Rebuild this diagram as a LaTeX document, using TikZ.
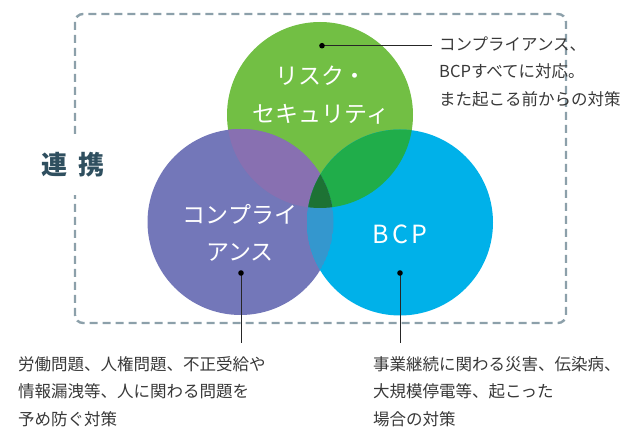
\documentclass[tikz,border=0pt]{standalone}
\usepackage{fontspec}
\setmainfont{Noto Sans CJK JP}
\definecolor{cgreen}{HTML}{72BF44}
\definecolor{cpurple}{HTML}{7377B9}
\definecolor{cblue}{HTML}{00B1E9}
\definecolor{cgp}{HTML}{8870B1}
\definecolor{cgb}{HTML}{20AD4A}
\definecolor{cpb}{HTML}{3497CE}
\definecolor{ctri}{HTML}{1D7234}
\definecolor{cdash}{HTML}{8CA0AA}
\definecolor{ctext}{HTML}{383838}
\definecolor{ctitle}{HTML}{2F4F5F}
\tikzset{
  venn/.style={circle, minimum size=186pt, inner sep=0pt, draw=none},
  lbl/.style={text=white, align=center, font=\fontsize{23}{37.5}\selectfont},
  desc/.style={text=ctext, align=left, anchor=north west, inner sep=0pt, font=\fontsize{16.5}{27.3}\selectfont},
  lead/.style={draw=black!85, line width=0.9pt}
}
\begin{document}
\begin{tikzpicture}[x=1pt,y=-1pt]
\useasboundingbox (0,0) rectangle (624,427);
% dashed frame
\draw[cdash, line width=2.4pt, dash pattern=on 8pt off 5pt, rounded corners=8pt] (75,14) rectangle (566,323);
\node[fill=white, minimum width=80pt, minimum height=60pt, inner sep=0pt, text=ctitle, font=\fontsize{26}{26}\selectfont\bfseries] (renkei) at (73,165) {連\hspace{0.4em}携};
% circles
\node[venn, fill=cgreen] (risk) at (320,115) {};
\node[venn, fill=cpurple] (comp) at (240.5,222) {};
\node[venn, fill=cblue] (bcp) at (400,222.5) {};
\begin{scope}
  \clip (320,115) circle (93);
  \fill[cgp] (240.5,222) circle (93);
  \fill[cgb] (400,222.5) circle (93);
  \clip (240.5,222) circle (93);
  \fill[ctri] (400,222.5) circle (93);
\end{scope}
\begin{scope}
  \clip (240.5,222) circle (93);
  \clip (400,222.5) circle (93);
  \fill[cpb] (240.5,222) circle (93);
  \clip (320,115) circle (93);
  \fill[ctri] (240.5,222) circle (93);
\end{scope}
% labels
\node[lbl] (risklbl) at (321,95) {リスク・\\セキュリティ};
\node[lbl] (complbl) at (240,233) {コンプライ\\アンス};
\node[text=white, font=\fontsize{25}{25}\selectfont] (bcplbl) at (400,234) {B\hspace{0.12em}C\hspace{0.12em}P};
% descriptions
\node[desc] (d1) at (439,36.5) {コンプライアンス、\\BCPすべてに対応。\\また起こる前からの対策};
\node[desc] (d2) at (18,356.5) {労働問題、人権問題、不正受給や\\情報漏洩等、人に関わる問題を\\予め防ぐ対策};
\node[desc] (d3) at (373,356.5) {事業継続に関わる災害、伝染病、\\大規模停電等、起こった\\場合の対策};
% leaders
\coordinate (p1) at (322,45.7);
\coordinate (q1) at (432,45.7);
\coordinate (p2) at (241,273);
\coordinate (q2) at (241,343);
\coordinate (p3) at (400,273);
\coordinate (q3) at (400,343);
\draw[lead] (p1) -- (q1);
\draw[lead] (p2) -- (q2);
\draw[lead] (p3) -- (q3);
\fill[black] (p1) circle (2.8);
\fill[black] (p2) circle (2.8);
\fill[black] (p3) circle (2.8);
\end{tikzpicture}
\end{document}
